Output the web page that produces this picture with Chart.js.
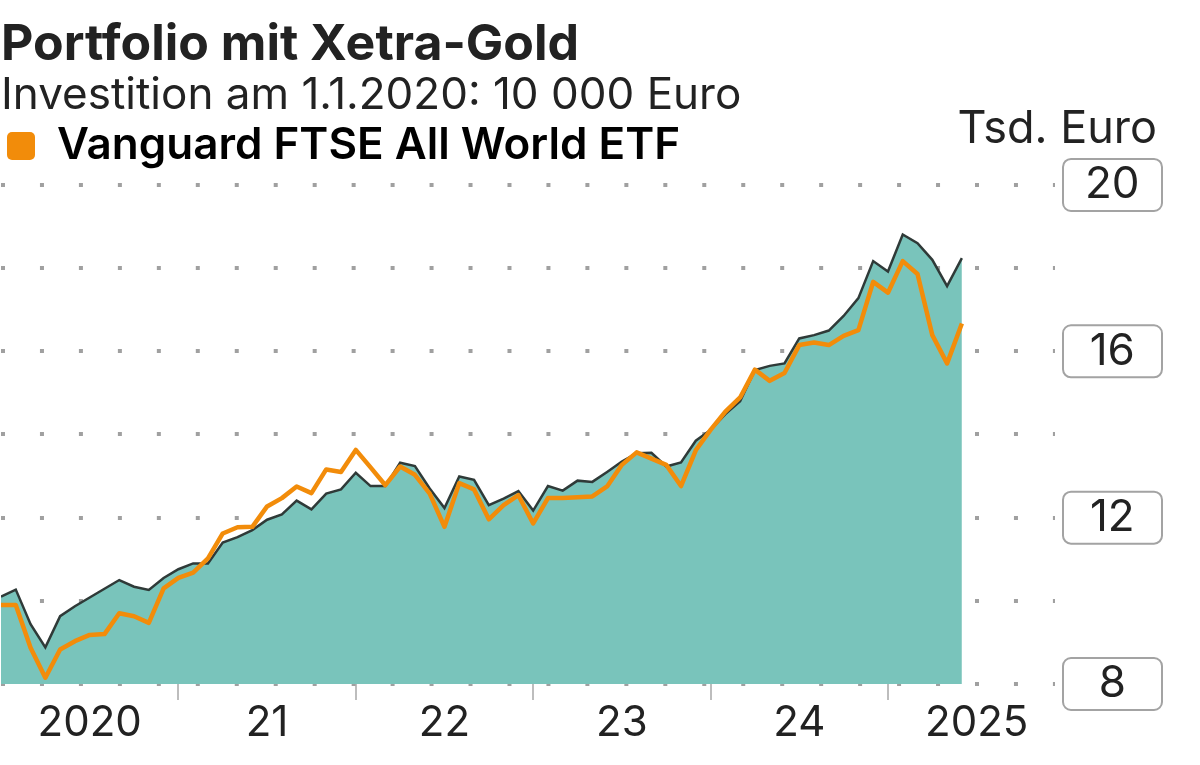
<!DOCTYPE html>
<html lang="de">
<head>
<meta charset="utf-8">
<script src="https://cdn.jsdelivr.net/npm/chart.js@4/dist/chart.umd.min.js"></script>
<style>
  html, body { margin: 0; padding: 0; background: #fff; }
  #wrap { width: 1200px; height: 765px; }
</style>
</head>
<body>
<div id="wrap"><canvas id="myChart"></canvas></div>
<script>
/* Daten: Monatswerte in Tsd. Euro, Jan 2020 bis Jun 2025 */
const gold = [
  10.10, 10.27, 9.44, 8.88, 9.63, 9.87, 10.08, 10.29, 10.50, 10.34,
  10.26, 10.55, 10.76, 10.90, 10.90, 11.40, 11.53, 11.70, 11.95, 12.08,
  12.41, 12.20, 12.58, 12.68, 13.08, 12.76, 12.76, 13.32, 13.24, 12.70,
  12.23, 12.99, 12.91, 12.30, 12.46, 12.64, 12.17, 12.76, 12.65, 12.89,
  12.86, 13.10, 13.35, 13.55, 13.56, 13.23, 13.33, 13.85, 14.11, 14.49,
  14.80, 15.55, 15.65, 15.71, 16.31, 16.39, 16.50, 16.85, 17.28, 18.17,
  17.92, 18.81, 18.60, 18.20, 17.57, 18.24
];

const vanguard = [
  9.90, 9.90, 8.87, 8.15, 8.83, 9.03, 9.18, 9.20, 9.70, 9.63,
  9.47, 10.30, 10.55, 10.68, 11.02, 11.62, 11.77, 11.78, 12.27, 12.47,
  12.75, 12.59, 13.16, 13.10, 13.63, 13.21, 12.78, 13.23, 13.03, 12.58,
  11.78, 12.83, 12.68, 11.96, 12.30, 12.54, 11.86, 12.47, 12.47, 12.49,
  12.51, 12.75, 13.27, 13.57, 13.42, 13.27, 12.76, 13.62, 14.11, 14.55,
  14.89, 15.56, 15.29, 15.48, 16.15, 16.21, 16.15, 16.37, 16.51, 17.67,
  17.41, 18.17, 17.86, 16.39, 15.71, 16.67
];

const yearLabels = ['2020', '21', '22', '23', '24', '2025'];
const yLabels = [8, 12, 16, 20];

const orange = '#f28c0a';
const teal = '#79c4bb';

// Monatsindex -> Position: Jahresmitte fuer Beschriftung, Jahreswechsel fuer Striche
const labelPos = yearLabels.map((_, k) => k * 12 + 6);
const yearTicks = [12, 24, 36, 48, 60];

/* Kaestchen um die Y-Beschriftung + Einheit */
const tickBoxes = {
  id: 'tickBoxes',
  afterDraw(chart) {
    const {ctx, scales: {y}} = chart;
    ctx.save();
    ctx.strokeStyle = '#a3a3a3';
    ctx.lineWidth = 2;
    yLabels.forEach(v => {
      const py = y.getPixelForValue(v);
      ctx.beginPath();
      ctx.roundRect(y.left + 8, py - 26, 99, 52, 8);
      ctx.stroke();
    });
    ctx.fillStyle = '#222';
    ctx.font = '45px Inter';
    ctx.textAlign = 'right';
    ctx.textBaseline = 'alphabetic';
    ctx.fillText('Tsd. Euro', 1157, 143);
    ctx.restore();
  }
};

Chart.defaults.font.family = 'Inter';
Chart.defaults.color = '#222';

const ctx = document.getElementById('myChart').getContext('2d');
const myChart = new Chart(ctx, {
  type: 'line',
  data: {
    datasets: [
      {
        label: 'Portfolio mit Xetra-Gold',
        data: gold.map((v, i) => ({x: i, y: v})),
        fill: 'start',
        backgroundColor: teal,
        borderColor: '#2f3a38',
        borderWidth: 2.5,
        pointRadius: 0,
        order: 2
      },
      {
        label: 'Vanguard FTSE All World ETF',
        data: vanguard.map((v, i) => ({x: i, y: v})),
        fill: false,
        backgroundColor: orange,
        borderColor: orange,
        borderWidth: 4.5,
        borderJoinStyle: 'round',
        pointRadius: 0,
        order: 1
      }
    ]
  },
  options: {
    responsive: true,
    maintainAspectRatio: false,
    animation: false,
    layout: { padding: { left: 1, right: 0, top: 0, bottom: 0 } },
    plugins: {
      title: {
        display: true,
        text: 'Portfolio mit Xetra-Gold',
        align: 'start',
        color: '#222',
        font: { size: 50, weight: 'bold', lineHeight: 1 },
        padding: { top: 20, bottom: 0 }
      },
      subtitle: {
        display: true,
        text: 'Investition am 1.1.2020: 10 000 Euro',
        align: 'start',
        color: '#222',
        font: { size: 44, weight: 'normal', lineHeight: 1 },
        padding: { top: 4, bottom: 0 }
      },
      legend: {
        display: true,
        align: 'start',
        labels: {
          boxWidth: 28,
          boxHeight: 28,
          padding: 6,
          color: '#222',
          font: { size: 44, weight: '600' },
          generateLabels: chart => [{
            text: chart.data.datasets[1].label,
            fillStyle: orange,
            strokeStyle: orange,
            lineWidth: 0,
            hidden: false,
            datasetIndex: 1,
            borderRadius: 5
          }],
          useBorderRadius: true,
          borderRadius: 5
        }
      },
      tooltip: { enabled: false }
    },
    scales: {
      x: {
        type: 'linear',
        min: 0,
        max: 71.3,
        afterBuildTicks: scale => {
          scale.ticks = [...labelPos, ...yearTicks].sort((a, b) => a - b).map(v => ({value: v}));
        },
        afterFit: scale => { scale.height = 81; },
        ticks: {
          autoSkip: false,
          maxRotation: 0,
          minRotation: 0,
          padding: 2,
          color: '#222',
          font: { size: 42, lineHeight: 1 },
          callback: v => {
            const k = labelPos.indexOf(v);
            return k >= 0 ? yearLabels[k] : '';
          }
        },
        grid: {
          drawOnChartArea: false,
          drawTicks: true,
          tickLength: 16,
          lineWidth: 2,
          color: c => (c.tick && yearTicks.includes(c.tick.value)) ? '#bdbdbd' : 'rgba(0,0,0,0)'
        },
        border: { display: false }
      },
      y: {
        position: 'right',
        min: 8,
        max: 20.168,
        afterBuildTicks: scale => {
          scale.ticks = [8, 10, 12, 14, 16, 18, 20].map(v => ({value: v}));
        },
        afterFit: scale => { scale.width = 145; },
        ticks: {
          crossAlign: 'center',
          padding: 30,
          color: '#222',
          font: { size: 44, lineHeight: 1 },
          callback: v => yLabels.includes(v) ? String(v) : ''
        },
        grid: {
          drawTicks: false,
          color: '#a0a0a0',
          lineWidth: 4
        },
        border: { display: false, dash: [4, 34.96] }
      }
    }
  },
  plugins: [tickBoxes]
});
</script>
</body>
</html>
